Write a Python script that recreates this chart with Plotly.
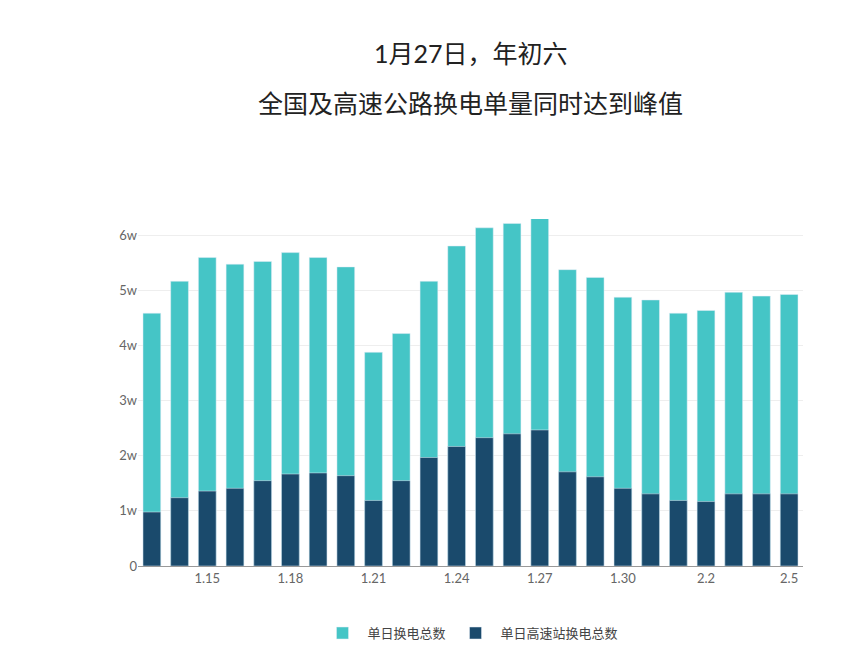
import plotly.graph_objects as go

dates = ["1.13", "1.14", "1.15", "1.16", "1.17", "1.18", "1.19", "1.20", "1.21", "1.22",
         "1.23", "1.24", "1.25", "1.26", "1.27", "1.28", "1.29", "1.30", "1.31",
         "2.1", "2.2", "2.3", "2.4", "2.5"]
total = [4.59, 5.17, 5.60, 5.48, 5.53, 5.69, 5.60, 5.43, 3.88, 4.22, 5.17, 5.81,
         6.14, 6.22, 6.34, 5.38, 5.24, 4.88, 4.83, 4.59, 4.64, 4.97, 4.90, 4.93]
highway = [0.98, 1.24, 1.36, 1.41, 1.55, 1.67, 1.69, 1.64, 1.19, 1.55, 1.97, 2.17,
           2.33, 2.40, 2.47, 1.71, 1.62, 1.41, 1.31, 1.19, 1.17, 1.31, 1.31, 1.31]
tick_labels = ["1.15", "1.18", "1.21", "1.24", "1.27", "1.30", "2.2", "2.5"]
title_lines = ["1月27日，年初六", "全国及高速公路换电单量同时达到峰值"]

font = "Lato, Noto Sans CJK SC, sans-serif"

fig = go.Figure()
fig.add_trace(go.Bar(x=dates, y=total, name="单日换电总数",
                     marker_color="#45C5C6"))
fig.add_trace(go.Bar(x=dates, y=highway, name="单日高速站换电总数",
                     marker_color="#1A4A6C"))

# two title lines, wide spacing as in the original
for i, line in enumerate(title_lines):
    fig.add_annotation(text=line, xref="paper", yref="paper", x=0.5, y=0,
                       yshift=0, showarrow=False, font=dict(size=25, color="#222", family=font))
fig.layout.annotations[0].update(yref="paper", y=1.0, yanchor="middle", yshift=166)
fig.layout.annotations[1].update(yref="paper", y=1.0, yanchor="middle", yshift=116)

fig.update_layout(
    width=846, height=652,
    barmode="overlay",
    plot_bgcolor="white", paper_bgcolor="white",
    font=dict(family=font, color="#666", size=13),
    margin=dict(l=130, r=51, t=211, b=76),
    xaxis=dict(tickmode="array", tickvals=tick_labels, ticktext=tick_labels,
               showline=True, linecolor="#999", ticks="", showgrid=False),
    yaxis=dict(range=[0, 6.3], tickvals=[0, 1, 2, 3, 4, 5, 6],
               ticktext=["0", "1w", "2w", "3w", "4w", "5w", "6w"],
               gridcolor="#eeeeee", zeroline=False),
    legend=dict(orientation="h", x=0.5, xanchor="center", y=-0.15, yanchor="top",
                font=dict(size=13, color="#444"), itemwidth=40, tracegroupgap=60),
    bargap=0.36,
)

fig.write_html("out.html")
